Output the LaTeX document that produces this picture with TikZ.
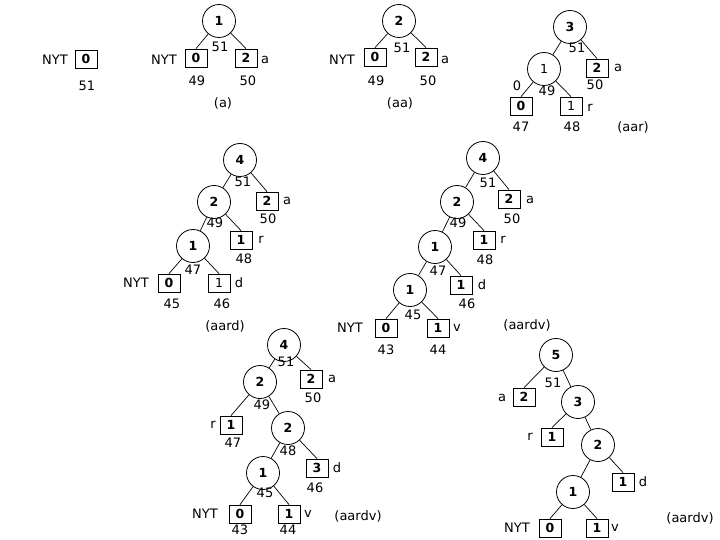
\documentclass[tikz,border=0pt]{standalone}
\usepackage{fontspec}
\setmainfont{DejaVu Sans}
\begin{document}
\begin{tikzpicture}[x=1pt,y=-1pt,line width=0.8pt,
  inode/.style={circle,draw,minimum size=33pt,inner sep=0pt,font=\fontsize{12.5}{12.5}\selectfont\bfseries},
  leaf/.style={rectangle,draw,minimum width=22pt,minimum height=18pt,inner sep=0pt,font=\fontsize{12.5}{12.5}\selectfont\bfseries},
  rg/.style={font=\fontsize{12.5}{12.5}\selectfont},
  lab/.style={font=\fontsize{13}{13}\selectfont,inner sep=0pt},
  edge/.style={draw,line width=0.7pt}]
\useasboundingbox (0,0) rectangle (720,540);
% tree 0
\node[lab] (t0nyt) at (55,60) {NYT};
\node[leaf] (t0n) at (86,59) {0};
\node[lab] (t0w) at (87,86) {51};
% tree (a)
\node[inode] (a1) at (219,21) {1};
\node[lab] (a1w) at (220,47) {51};
\node[leaf] (a0) at (196,58) {0};
\node[lab] (a0l) at (164,60) {NYT};
\node[lab] (a0w) at (197,81) {49};
\node[leaf] (a2) at (246,58) {2};
\node[lab] (a2l) at (265,60) {a};
\node[lab] (a2w) at (248,81) {50};
\node[lab] (acap) at (223,103) {(a)};
\path[edge] (a1) -- (a0.north) (a1) -- (a2.north);
% tree (aa)
\node[inode] (b1) at (399,21) {2};
\node[lab] (b1w) at (402,48) {51};
\node[leaf] (b0) at (375,57) {0};
\node[lab] (b0l) at (342,60) {NYT};
\node[lab] (b0w) at (376,81) {49};
\node[leaf] (b2) at (426,57) {2};
\node[lab] (b2l) at (445,60) {a};
\node[lab] (b2w) at (428,81) {50};
\node[lab] (bcap) at (400,103) {(aa)};
\path[edge] (b1) -- (b0.north) (b1) -- (b2.north);
% tree (aar)
\node[inode] (c3) at (570,27) {3};
\node[lab] (c3w) at (577,48) {51};
\node[leaf] (c2) at (597,68) {2};
\node[lab] (c2l) at (618,68) {a};
\node[lab] (c2w) at (595,85) {50};
\node[inode,rg] (c1) at (544,69) {1};
\node[lab] (c1l) at (517,86) {0};
\node[lab] (c1w) at (547,91) {49};
\node[leaf] (c0) at (521,106) {0};
\node[lab] (c0w) at (521,127) {47};
\node[leaf,rg] (cr) at (571,106) {1};
\node[lab] (crl) at (590,108) {r};
\node[lab] (crw) at (572,127) {48};
\node[lab] (ccap) at (633,127) {(aar)};
\path[edge] (c3) -- (c1) (c3) -- (c2.north) (c1) -- (c0.north) (c1) -- (cr.north);
% tree (aard)
\node[inode] (d4) at (240,160) {4};
\node[lab] (d4w) at (243,182) {51};
\node[leaf] (da) at (267,201) {2};
\node[lab] (dal) at (287,201) {a};
\node[lab] (daw) at (268,219) {50};
\node[inode] (d2) at (214,202) {2};
\node[lab] (d2w) at (215,223) {49};
\node[leaf] (dr) at (241,240) {1};
\node[lab] (drl) at (261,240) {r};
\node[lab] (drw) at (244,259) {48};
\node[inode] (d1) at (193,246) {1};
\node[lab] (d1w) at (193,270) {47};
\node[leaf] (d0) at (169,283) {0};
\node[lab] (d0l) at (136,283) {NYT};
\node[lab] (d0w) at (172,304) {45};
\node[leaf,rg] (dd) at (219,283) {1};
\node[lab] (ddl) at (239,283) {d};
\node[lab] (ddw) at (222,304) {46};
\node[lab] (dcap) at (225,326) {(aard)};
\path[edge] (d4) -- (d2) (d4) -- (da.north) (d2) -- (d1) (d2) -- (dr.north)
  (d1) -- (d0.north) (d1) -- (dd.north);
% tree (aardv) 1
\node[inode] (e4) at (483,158) {4};
\node[lab] (e4w) at (488,183) {51};
\node[leaf] (ea) at (509,199) {2};
\node[lab] (eal) at (530,200) {a};
\node[lab] (eaw) at (512,219) {50};
\node[inode] (e2) at (457,202) {2};
\node[lab] (e2w) at (458,223) {49};
\node[leaf] (er) at (484,240) {1};
\node[lab] (erl) at (503,240) {r};
\node[lab] (erw) at (485,260) {48};
\node[inode] (e1) at (435,247) {1};
\node[lab] (e1w) at (438,271) {47};
\node[leaf] (ed) at (461,285) {1};
\node[lab] (edl) at (482,285) {d};
\node[lab] (edw) at (467,304) {46};
\node[inode] (e1b) at (410,290) {1};
\node[lab] (e1bw) at (413,315) {45};
\node[leaf] (e0) at (386,328) {0};
\node[lab] (e0l) at (350,328) {NYT};
\node[lab] (e0w) at (386,350) {43};
\node[leaf] (ev) at (438,328) {1};
\node[lab] (evl) at (457,328) {v};
\node[lab] (evw) at (438,350) {44};
\node[lab] (ecap) at (527,325) {(aardv)};
\path[edge] (e4) -- (e2) (e4) -- (ea.north) (e2) -- (e1) (e2) -- (er.north)
  (e1) -- (e1b) (e1) -- (ed.north) (e1b) -- (e0.north) (e1b) -- (ev.north);
% tree (aardv) 2
\node[inode] (f4) at (284,345) {4};
\node[lab] (f4w) at (286,362) {51};
\node[leaf] (fa) at (311,379) {2};
\node[lab] (fal) at (332,379) {a};
\node[lab] (faw) at (313,398) {50};
\node[inode] (f2) at (260,382) {2};
\node[lab] (f2w) at (262,405) {49};
\node[leaf] (fr) at (231,425) {1};
\node[lab] (frl) at (213,425) {r};
\node[lab] (frw) at (233,443) {47};
\node[inode] (f2b) at (288,428) {2};
\node[lab] (f2bw) at (288,451) {48};
\node[leaf] (fd) at (317,468) {3};
\node[lab] (fdl) at (337,468) {d};
\node[lab] (fdw) at (315,488) {46};
\node[inode] (f1) at (263,473) {1};
\node[lab] (f1w) at (265,493) {45};
\node[leaf] (f0) at (240,514) {0};
\node[lab] (f0l) at (205,514) {NYT};
\node[lab] (f0w) at (240,530) {43};
\node[leaf] (fv) at (289,514) {1};
\node[lab] (fvl) at (308,514) {v};
\node[lab] (fvw) at (288,530) {44};
\node[lab] (fcap) at (358,516) {(aardv)};
\path[edge] (f4) -- (f2) (f4) -- (fa.north) (f2) -- (fr.north) (f2) -- (f2b)
  (f2b) -- (f1) (f2b) -- (fd.north) (f1) -- (f0.north) (f1) -- (fv.north);
% tree (aardv) 3
\node[inode] (g5) at (556,355) {5};
\node[lab] (g5w) at (553,383) {51};
\node[leaf] (ga) at (524,397) {2};
\node[lab] (gal) at (502,398) {a};
\node[inode] (g3) at (578,402) {3};
\node[leaf] (gr) at (552,437) {1};
\node[lab] (grl) at (530,437) {r};
\node[inode] (g2) at (598,445) {2};
\node[leaf] (gd) at (623,482) {1};
\node[lab] (gdl) at (643,482) {d};
\node[inode] (g1) at (573,492) {1};
\node[leaf] (g0) at (550,528) {0};
\node[lab] (g0l) at (517,528) {NYT};
\node[leaf] (gv) at (597,528) {1};
\node[lab] (gvl) at (615,528) {v};
\node[lab] (gcap) at (690,518) {(aardv)};
\path[edge] (g5) -- (ga.north) (g5) -- (g3) (g3) -- (gr.north) (g3) -- (g2)
  (g2) -- (g1) (g2) -- (gd.north) (g1) -- (g0.north) (g1) -- (gv.north);
\end{tikzpicture}
\end{document}
